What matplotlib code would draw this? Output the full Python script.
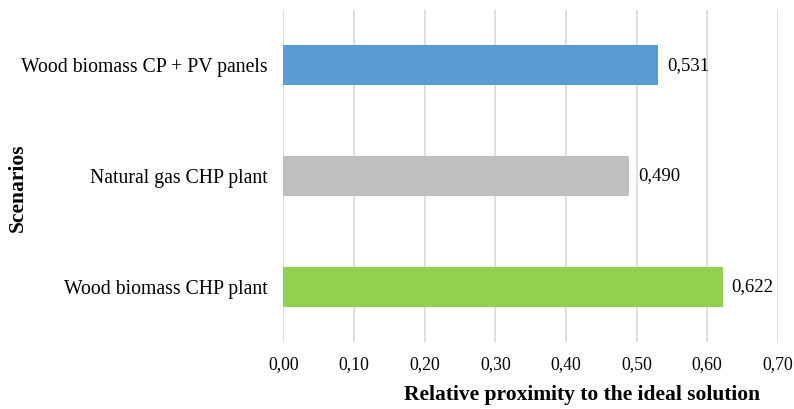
import matplotlib.pyplot as plt

scenarios = ['Wood biomass CHP plant', 'Natural gas CHP plant', 'Wood biomass CP + PV panels']
values = [0.622, 0.490, 0.531]
colors = ['#92D050', '#BFBFBF', '#5B9BD5']
xticks = [0.0, 0.1, 0.2, 0.3, 0.4, 0.5, 0.6, 0.7]

plt.rcParams['font.family'] = ['Liberation Serif', 'DejaVu Serif']

fig = plt.figure(figsize=(7.94, 4.09), dpi=100)
ax = fig.add_axes([0.357, 0.1638, 0.6225, 0.8118])

ax.barh(range(len(scenarios)), values, height=0.36, color=colors, zorder=3)
for i, v in enumerate(values):
    ax.annotate(('%.3f' % v).replace('.', ','), (v, i), xytext=(9, 0),
                textcoords='offset pixels', va='center', ha='left', fontsize=13.5)

ax.set_xlim(0, 0.7)
ax.set_ylim(-0.5, 2.5)
ax.set_xticks(xticks)
ax.set_xticklabels([('%.2f' % t).replace('.', ',') for t in xticks], fontsize=12.8)
ax.set_yticks(range(len(scenarios)))
ax.set_yticklabels(scenarios, fontsize=14.2)
ax.tick_params(axis='both', length=0)
ax.tick_params(axis='y', pad=11.5)
ax.tick_params(axis='x', pad=10)
ax.grid(axis='x', color='#D9D9D9', linewidth=1.2, zorder=0)
for s in ax.spines.values():
    s.set_visible(False)

ax.set_xlabel('Relative proximity to the ideal solution', fontsize=15.5, fontweight='bold')
ax.set_ylabel('Scenarios', fontsize=15.5, fontweight='bold')
ax.xaxis.set_label_coords(0.604, -0.13)
ax.yaxis.set_label_coords(-0.517, 0.465)

fig.savefig('out.png', dpi=100)
